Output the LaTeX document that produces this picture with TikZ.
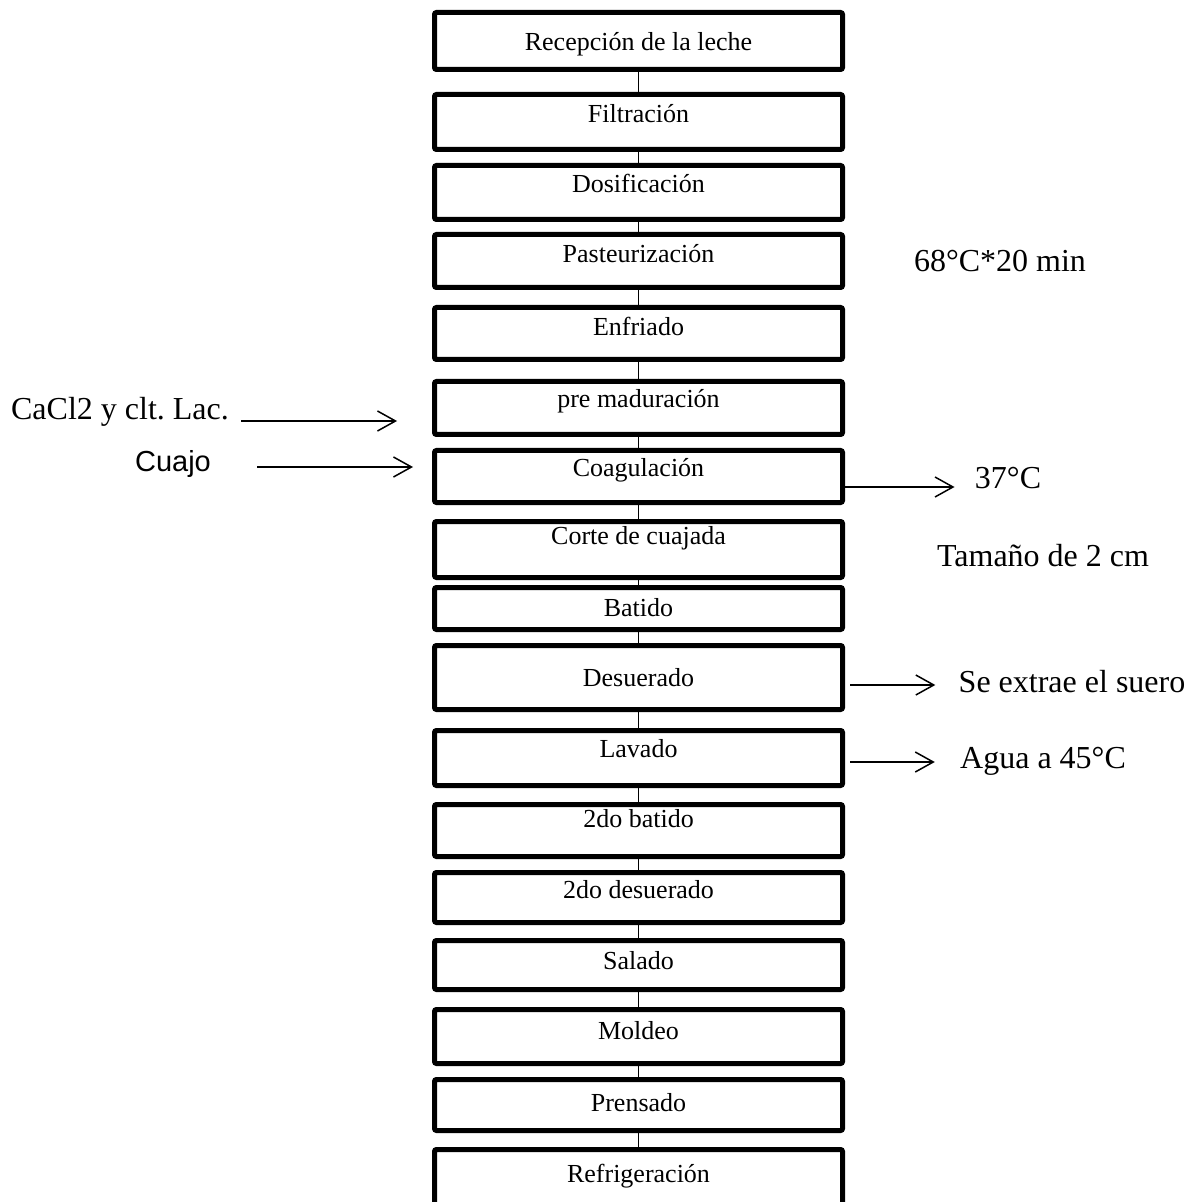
\documentclass[tikz,border=0pt]{standalone}
\usepackage{fontspec}
\setmainfont{Liberation Serif}
\newfontfamily\arialfont{Liberation Sans}
\usetikzlibrary{arrows.meta}
\frenchspacing

\begin{document}
\begin{tikzpicture}[
  x=0.5pt, y=-0.5pt,
  stepbox/.style = {draw, line width=2.5pt, rounded corners=1pt, inner sep=0pt,
                    minimum width=204pt, text height=12.5pt,
                    font=\fontsize{13}{15}\selectfont},
  link/.style    = {line width=0.6pt},
  feed/.style    = {line width=0.75pt, -{Straight Barb[length=9pt,width=10pt]}},
  note/.style    = {anchor=base, inner sep=0pt, font=\fontsize{16}{19}\selectfont},
]
  \useasboundingbox (0,0) rectangle (1194,1202);

  % pixel grid: x to the right, y down; text depth lifts the label in its box
  \node[stepbox, minimum height=28.5pt, text depth=3pt]    (rec)   at (638.5,41)    {Recepción de la leche};
  \node[stepbox, minimum height=27.5pt, text depth=12pt]   (fil)   at (638.5,122)   {Filtración};
  \node[stepbox, minimum height=27pt,   text depth=12.5pt] (dos)   at (638.5,192.5) {Dosificación};
  \node[stepbox, minimum height=26.5pt, text depth=11pt]   (past)  at (638.5,261)   {Pasteurización};
  \node[stepbox, minimum height=26pt,   text depth=10.5pt] (enf)   at (638.5,333.5) {Enfriado};
  \node[stepbox, minimum height=26.5pt, text depth=13pt]   (premad) at (638.5,408)  {pre maduración};
  \node[stepbox, minimum height=26pt,   text depth=12.5pt] (coag)  at (638.5,476.5) {Coagulación};
  \node[stepbox, minimum height=28pt,   text height=9pt, text depth=14pt] (corte) at (638.5,549.5) {Corte de cuajada};
  \node[stepbox, minimum height=21pt,   text depth=4.5pt]  (bat)   at (638.5,608.5) {Batido};
  \node[stepbox, minimum height=32pt,   text depth=3.5pt]  (deso)  at (638.5,677.5) {Desuerado};
  \node[stepbox, minimum height=27.5pt, text depth=13pt]   (lav)   at (638.5,758)   {Lavado};
  \node[stepbox, minimum height=26pt,   text height=9pt, text depth=12pt] (bat2)  at (638.5,830.5) {2do batido};
  \node[stepbox, minimum height=25pt,   text depth=11.5pt] (deso2) at (638.5,897.5) {2do desuerado};
  \node[stepbox, minimum height=24.5pt, text depth=8pt]    (sal)   at (638.5,965)   {Salado};
  \node[stepbox, minimum height=27pt,   text depth=9.5pt]  (mold)  at (638.5,1036.5) {Moldeo};
  \node[stepbox, minimum height=25.5pt, text depth=6pt]    (pren)  at (638.5,1105)  {Prensado};
  \node[stepbox, minimum height=29pt,   text depth=8.5pt]  (refr)  at (638.5,1178.5) {Refrigeración};

  % the chain of steps
  \draw[link] (rec) -- (fil) (fil) -- (dos) (dos) -- (past) (past) -- (enf)
              (enf) -- (premad) (premad) -- (coag) (coag) -- (corte) (corte) -- (bat)
              (bat) -- (deso) (deso) -- (lav) (lav) -- (bat2) (bat2) -- (deso2)
              (deso2) -- (sal) (sal) -- (mold) (mold) -- (pren) (pren) -- (refr);

  % side notes
  \node[note] (cacl)  at (120,420)  {CaCl2 y clt. Lac.};
  \node[note, font=\arialfont\fontsize{14.5}{17}\selectfont] (cuajo) at (173,472) {Cuajo};
  \node[note] (t68)   at (1000,272) {68°C*20 min};
  \node[note] (t37)   at (1008,488) {37°C};
  \node[note] (tam)   at (1043,566) {Tamaño de 2 cm};
  \node[note] (suero) at (1072,692) {Se extrae el suero};
  \node[note] (agua)  at (1043,768) {Agua a 45°C};

  \draw[feed, shorten <=6pt, shorten >=17.5pt] (cacl.east |- 0,421) -- (premad.west |- 0,421);
  \draw[feed, shorten <=23pt, shorten >=9.5pt] (cuajo.east |- 0,467) -- (coag.west |- 0,467);
  \draw[feed, shorten >=10pt] (coag.east |- 0,487) -- (t37.west |- 0,487);
  \draw[feed, shorten <=2.5pt, shorten >=11.5pt] (deso.east |- 0,685) -- (suero.west |- 0,685);
  \draw[feed, shorten <=2.5pt, shorten >=12.5pt] (lav.east |- 0,762) -- (agua.west |- 0,762);
\end{tikzpicture}
\end{document}
